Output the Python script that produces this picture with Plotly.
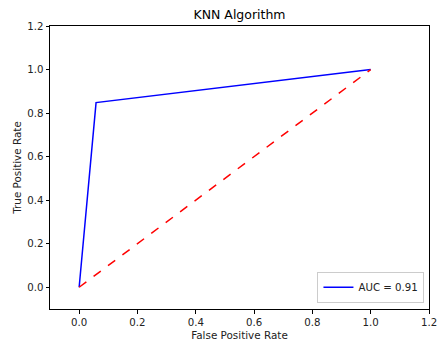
import plotly.graph_objects as go

fpr = [0.0, 0.058, 1.0]
tpr = [0.0, 0.848, 1.0]
diag_x = [0.0, 1.0]
diag_y = [0.0, 1.0]
auc_label = "AUC = 0.91"
title = "KNN Algorithm"
x_ticks = [0.0, 0.2, 0.4, 0.6, 0.8, 1.0, 1.2]
y_ticks = [0.0, 0.2, 0.4, 0.6, 0.8, 1.0, 1.2]

font = "DejaVu Sans"
fig = go.Figure()
fig.add_trace(go.Scatter(x=fpr, y=tpr, mode="lines", name=auc_label,
                         line=dict(color="#0000ff", width=1.5)))
fig.add_trace(go.Scatter(x=diag_x, y=diag_y, mode="lines", showlegend=False,
                         line=dict(color="#ff0000", width=1.5, dash="dash")))

axis_common = dict(showline=True, linecolor="#000000", linewidth=1, mirror=True,
                   ticks="outside", ticklen=3.5, tickcolor="#000000", tickwidth=1,
                   showgrid=False, zeroline=False, automargin=False,
                   ticklabeloverflow="allow",
                   tickfont=dict(family=font, size=10.2, color="#222222"))
fig.update_layout(
    width=437, height=345,
    margin=dict(l=50, r=8, t=26, b=36),
    paper_bgcolor="white", plot_bgcolor="white",
    title=dict(text=title, x=(50 + 429) / 2 / 437, xanchor="center", y=1 - 15 / 345, yanchor="middle",
               font=dict(family=font, size=12.5, color="#000000")),
    xaxis=dict(range=[-0.1, 1.2], tickvals=x_ticks, ticktext=[f"{v:.1f}" for v in x_ticks],
               title=dict(text="False Positive Rate", font=dict(family=font, size=10.4, color="#222222"), standoff=4),
               **axis_common),
    yaxis=dict(range=[-0.1, 1.2], tickvals=y_ticks, ticktext=[f"{v:.1f}" for v in y_ticks],
               title=dict(text="True Positive Rate", font=dict(family=font, size=10.4, color="#222222"), standoff=3),
               **axis_common),
    legend=dict(x=0.988, y=0.022, xanchor="right", yanchor="bottom",
                bgcolor="rgba(255,255,255,0.8)", bordercolor="#cccccc", borderwidth=1,
                font=dict(family=font, size=10.2, color="#222222")),
    showlegend=True,
)
fig.write_html("out.html", config={"displayModeBar": False},
               post_script="document.body.style.margin='0';")
